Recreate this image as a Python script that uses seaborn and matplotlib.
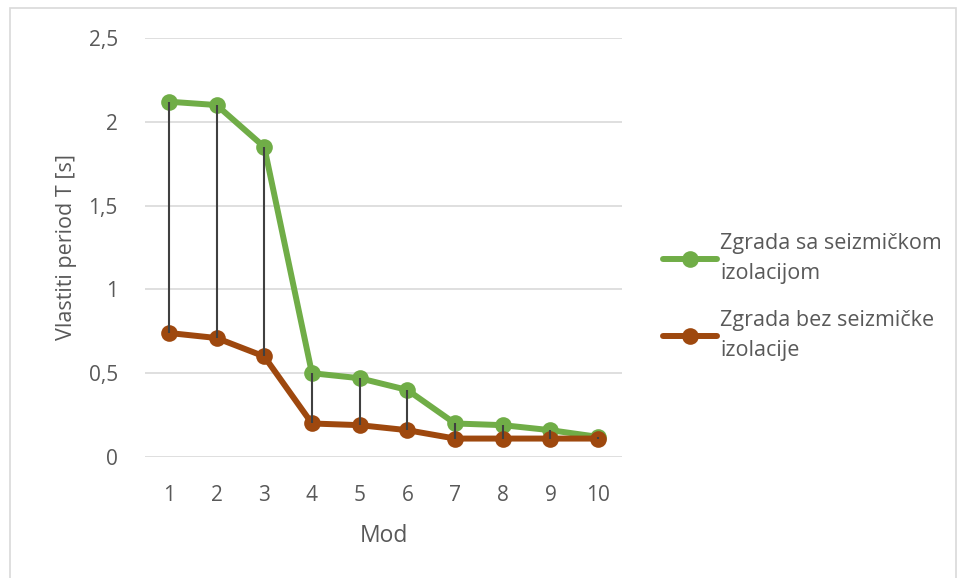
import numpy as np
import pandas as pd
import matplotlib
matplotlib.use("Agg")
import matplotlib.pyplot as plt
from matplotlib.patches import Rectangle
import seaborn as sns

# Mode numbers and natural periods [s]
modes = [1, 2, 3, 4, 5, 6, 7, 8, 9, 10]
t_isolated = [2.12, 2.10, 1.85, 0.50, 0.47, 0.40, 0.20, 0.19, 0.16, 0.12]
t_fixed = [0.74, 0.71, 0.60, 0.20, 0.19, 0.16, 0.11, 0.11, 0.11, 0.11]
series_names = ["Zgrada sa seizmičkom\nizolacijom", "Zgrada bez seizmičke\nizolacije"]
y_ticks = [0, 0.5, 1, 1.5, 2, 2.5]
y_tick_labels = ["0", "0,5", "1", "1,5", "2", "2,5"]

sns.set_theme(style="white")
plt.rcParams["font.family"] = ["Open Sans", "DejaVu Sans"]

text_color = "#595959"
colors = {series_names[0]: "#70AD47", series_names[1]: "#9E480E"}

df = pd.DataFrame({
    "Mod": modes * 2,
    "T": t_isolated + t_fixed,
    "serija": [series_names[0]] * len(modes) + [series_names[1]] * len(modes),
})

fig = plt.figure(figsize=(9.57, 5.78), dpi=100)
ax = fig.add_axes([145 / 957, 1 - 457 / 578, (622 - 145) / 957, (457 - 38) / 578])

sns.lineplot(data=df, x="Mod", y="T", hue="serija", palette=colors,
             marker="o", markersize=12, markeredgewidth=0, linewidth=4.3,
             ax=ax, zorder=3)

# Drop lines between the two series
ax.vlines(modes, t_fixed, t_isolated, color="#404040", linewidth=1.5, zorder=4)

ax.set_xlim(0.5, 10.5)
ax.set_ylim(0, 2.5)
ax.set_yticks(y_ticks)
ax.set_yticklabels(y_tick_labels)
ax.set_xticks(modes)
ax.set_xticklabels([str(m) for m in modes])
ax.yaxis.grid(True, color="#d9d9d9", linewidth=1.2)
ax.set_axisbelow(True)
for s in ax.spines.values():
    s.set_visible(False)
ax.tick_params(axis="both", length=0, labelsize=15, labelcolor=text_color)
ax.tick_params(axis="y", pad=19.5)
ax.tick_params(axis="x", pad=20)

ax.set_xlabel("Mod", fontsize=16.5, color=text_color, labelpad=13)
ax.set_ylabel("Vlastiti period T [s]", fontsize=15.5, color=text_color, labelpad=8)

handles, labels = ax.get_legend_handles_labels()
leg = ax.legend(handles, labels, loc="center left", bbox_to_anchor=(644 / 957, 1 - 297 / 578),
                bbox_transform=fig.transFigure, frameon=False, fontsize=15.5,
                handlelength=2.5, handletextpad=0.14, labelspacing=1.25,
                labelcolor=text_color)
for t in leg.get_texts():
    t.set_linespacing(1.55)

# Outer chart border
fig.patches.append(Rectangle((10 / 957, -0.1), 946 / 957, 1.1 - 8 / 578,
                             transform=fig.transFigure, fill=False,
                             edgecolor="#d9d9d9", linewidth=1.2))

fig.savefig("out.png", dpi=100)
